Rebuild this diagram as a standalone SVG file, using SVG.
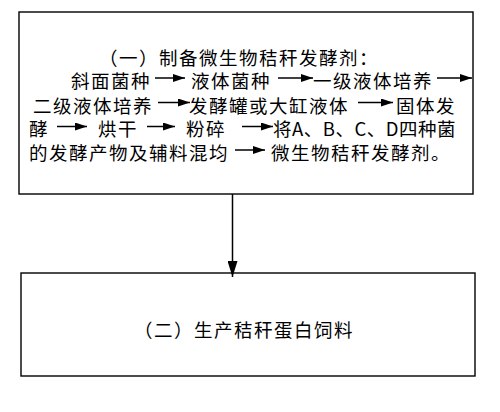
<svg xmlns="http://www.w3.org/2000/svg" width="500" height="412" viewBox="0 0 500 412">
<style>
.box{fill:#fff;stroke:#000;stroke-width:1.4}
.t{font-family:"Noto Sans CJK SC","Noto Sans",sans-serif;font-size:18.5px;letter-spacing:1.5px;fill:#000}
.a{stroke:#000;stroke-width:1.5;fill:none;marker-end:url(#ah)}
.c{stroke:#000;stroke-width:1.5;fill:none;marker-end:url(#av)}
</style>
<defs>
<marker id="ah" markerUnits="userSpaceOnUse" markerWidth="13" markerHeight="8" refX="12" refY="4" orient="auto">
<path d="M0,0 L12,4 L0,8 z" fill="#000"/>
</marker>
<marker id="av" markerUnits="userSpaceOnUse" markerWidth="17" markerHeight="10" refX="16" refY="5" orient="auto">
<path d="M0,0 L16,5 L0,10 z" fill="#000"/>
</marker>
</defs>
<rect width="500" height="412" fill="#fff"/>
<g id="node1">
<rect class="box" x="19" y="12" width="454" height="182"/>
<text class="t" x="99" y="64.5">（一）制备微生物秸秆发酵剂：</text>
<text class="t" x="71" y="88">斜面菌种</text>
<text class="t" x="191" y="88">液体菌种</text>
<text class="t" x="313" y="88">一级液体培养</text>
<text class="t" x="33" y="112.5">二级液体培养</text>
<text class="t" x="189" y="112.5">发酵罐或大缸液体</text>
<text class="t" x="396" y="112.5">固体发</text>
<text class="t" x="29" y="136">酵</text>
<text class="t" x="98" y="136">烘干</text>
<text class="t" x="186" y="136">粉碎</text>
<text class="t" x="273" y="136" textLength="184" lengthAdjust="spacing">将A、B、C、D四种菌</text>
<text class="t" x="29" y="160">的发酵产物及辅料混均</text>
<text class="t" x="271" y="160">微生物秸秆发酵剂。</text>
<g id="inline-arrows">
<line class="a" x1="155" y1="78" x2="185" y2="78"/>
<line class="a" x1="278" y1="78" x2="313" y2="78"/>
<line class="a" x1="437" y1="78" x2="472" y2="78"/>
<line class="a" x1="158" y1="102.5" x2="190" y2="102.5"/>
<line class="a" x1="358" y1="102.5" x2="393" y2="102.5"/>
<line class="a" x1="57" y1="126.5" x2="87" y2="126.5"/>
<line class="a" x1="147" y1="126.5" x2="175" y2="126.5"/>
<line class="a" x1="242" y1="126.5" x2="273" y2="126.5"/>
<line class="a" x1="235" y1="150" x2="265" y2="150"/>
</g>
</g>
<g id="node2">
<rect class="box" x="21" y="273" width="454" height="103"/>
<text class="t" x="134" y="336.5">（二）生产秸秆蛋白饲料</text>
</g>
<g id="connectors">
<line class="c" x1="232.5" y1="194" x2="232.5" y2="277"/>
</g>
</svg>
